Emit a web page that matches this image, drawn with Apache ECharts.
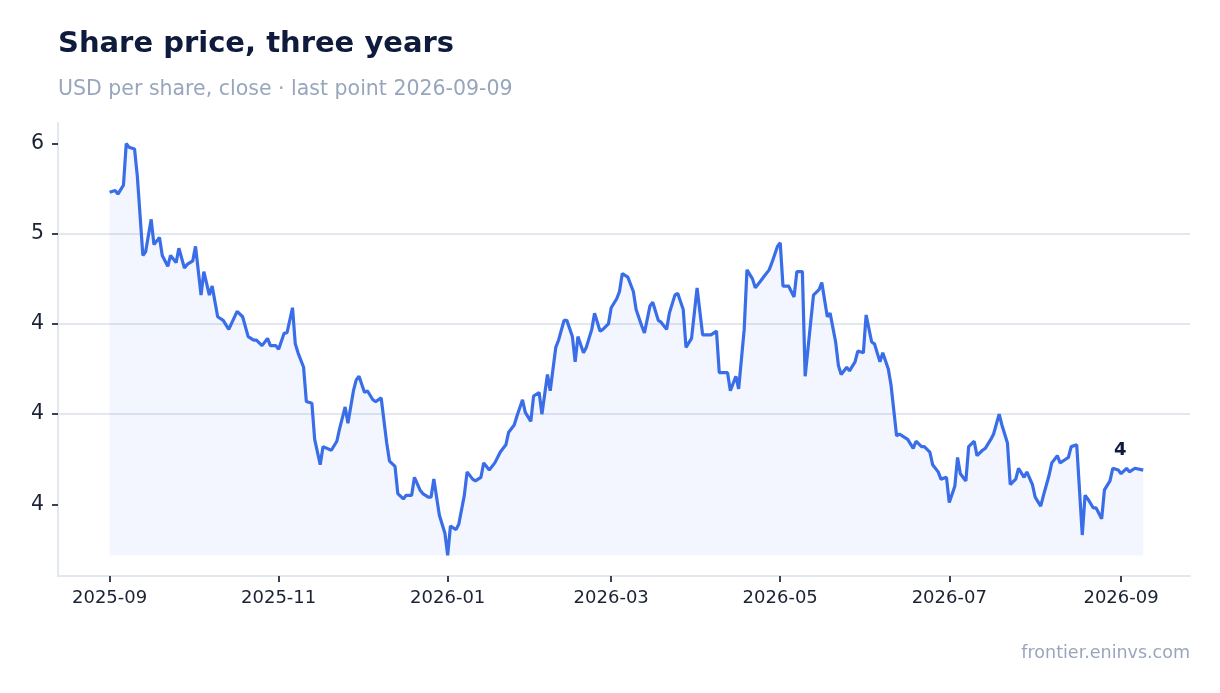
<!DOCTYPE html>
<html>
<head>
<meta charset="utf-8">
<script src="https://cdn.jsdelivr.net/npm/echarts@6/dist/echarts.min.js"></script>
<style>
  html, body { margin: 0; padding: 0; background: #fff; }
  #main { width: 1220px; height: 693px; }
</style>
</head>
<body>
<div id="main"></div>
<script>
// closing prices
var dates = [
  '2025-09-01','2025-09-03','2025-09-04','2025-09-06','2025-09-07','2025-09-08','2025-09-10','2025-09-11',
  '2025-09-13','2025-09-14','2025-09-16','2025-09-17','2025-09-19','2025-09-20','2025-09-22','2025-09-23',
  '2025-09-25','2025-09-26','2025-09-28','2025-09-29','2025-10-01','2025-10-02','2025-10-04','2025-10-05',
  '2025-10-07','2025-10-08','2025-10-10','2025-10-12','2025-10-14','2025-10-17','2025-10-19','2025-10-21',
  '2025-10-23','2025-10-24','2025-10-26','2025-10-28','2025-10-29','2025-10-31','2025-11-01','2025-11-03',
  '2025-11-04','2025-11-06','2025-11-07','2025-11-08','2025-11-10','2025-11-11','2025-11-13','2025-11-14',
  '2025-11-16','2025-11-17','2025-11-20','2025-11-22','2025-11-23','2025-11-25','2025-11-26','2025-11-28',
  '2025-11-29','2025-11-30','2025-12-02','2025-12-03','2025-12-05','2025-12-06','2025-12-08','2025-12-10',
  '2025-12-11','2025-12-13','2025-12-14','2025-12-16','2025-12-17','2025-12-19','2025-12-20','2025-12-22',
  '2025-12-23','2025-12-25','2025-12-26','2025-12-27','2025-12-29','2025-12-31','2026-01-01','2026-01-02',
  '2026-01-04','2026-01-05','2026-01-07','2026-01-08','2026-01-10','2026-01-11','2026-01-13','2026-01-14',
  '2026-01-16','2026-01-18','2026-01-20','2026-01-22','2026-01-23','2026-01-25','2026-01-26','2026-01-28',
  '2026-01-29','2026-01-31','2026-02-01','2026-02-03','2026-02-04','2026-02-06','2026-02-07','2026-02-09',
  '2026-02-10','2026-02-12','2026-02-13','2026-02-15','2026-02-16','2026-02-17','2026-02-19','2026-02-20',
  '2026-02-22','2026-02-23','2026-02-25','2026-02-26','2026-02-28','2026-03-01','2026-03-03','2026-03-04',
  '2026-03-05','2026-03-07','2026-03-09','2026-03-10','2026-03-12','2026-03-13','2026-03-15','2026-03-16',
  '2026-03-18','2026-03-19','2026-03-21','2026-03-22','2026-03-24','2026-03-25','2026-03-27','2026-03-28',
  '2026-03-30','2026-03-31','2026-04-01','2026-04-03','2026-04-04','2026-04-06','2026-04-08','2026-04-09',
  '2026-04-10','2026-04-12','2026-04-13','2026-04-15','2026-04-16','2026-04-18','2026-04-19','2026-04-21',
  '2026-04-22','2026-04-24','2026-04-25','2026-04-27','2026-04-28','2026-04-30','2026-05-01','2026-05-02',
  '2026-05-04','2026-05-06','2026-05-07','2026-05-09','2026-05-10','2026-05-12','2026-05-13','2026-05-15',
  '2026-05-16','2026-05-18','2026-05-19','2026-05-21','2026-05-22','2026-05-23','2026-05-25','2026-05-26',
  '2026-05-28','2026-05-29','2026-05-31','2026-06-01','2026-06-03','2026-06-04','2026-06-06','2026-06-07',
  '2026-06-09','2026-06-10','2026-06-12','2026-06-13','2026-06-15','2026-06-16','2026-06-18','2026-06-19',
  '2026-06-21','2026-06-22','2026-06-24','2026-06-25','2026-06-27','2026-06-28','2026-06-30','2026-07-01',
  '2026-07-03','2026-07-04','2026-07-05','2026-07-07','2026-07-08','2026-07-10','2026-07-11','2026-07-13',
  '2026-07-14','2026-07-16','2026-07-17','2026-07-19','2026-07-20','2026-07-22','2026-07-23','2026-07-25',
  '2026-07-26','2026-07-28','2026-07-29','2026-07-31','2026-08-01','2026-08-03','2026-08-04','2026-08-06',
  '2026-08-07','2026-08-09','2026-08-10','2026-08-12','2026-08-13','2026-08-14','2026-08-16','2026-08-18',
  '2026-08-19','2026-08-20','2026-08-22','2026-08-23','2026-08-25','2026-08-26','2026-08-28','2026-08-29',
  '2026-08-31','2026-09-01','2026-09-03','2026-09-04','2026-09-06','2026-09-09'
];
var prices = [
  5.73, 5.74, 5.72, 5.77, 6.00, 5.98, 5.97, 5.82,
  5.38, 5.40, 5.58, 5.44, 5.48, 5.38, 5.32, 5.38,
  5.34, 5.42, 5.31, 5.33, 5.35, 5.43, 5.16, 5.29,
  5.16, 5.21, 5.04, 5.02, 4.97, 5.07, 5.04, 4.93,
  4.91, 4.91, 4.88, 4.92, 4.88, 4.88, 4.86, 4.95,
  4.95, 5.09, 4.89, 4.84, 4.76, 4.57, 4.56, 4.36,
  4.22, 4.32, 4.30, 4.35, 4.42, 4.54, 4.45, 4.63,
  4.69, 4.71, 4.62, 4.63, 4.58, 4.57, 4.59, 4.34,
  4.24, 4.21, 4.06, 4.03, 4.05, 4.05, 4.15, 4.08,
  4.06, 4.04, 4.04, 4.14, 3.94, 3.84, 3.717, 3.88,
  3.86, 3.89, 4.05, 4.18, 4.14, 4.13, 4.15, 4.23,
  4.19, 4.23, 4.29, 4.33, 4.40, 4.44, 4.49, 4.58,
  4.51, 4.46, 4.60, 4.62, 4.50, 4.72, 4.63, 4.87,
  4.91, 5.02, 5.02, 4.93, 4.79, 4.93, 4.84, 4.87,
  4.97, 5.06, 4.96, 4.97, 5.00, 5.09, 5.14, 5.18,
  5.28, 5.26, 5.18, 5.08, 4.99, 4.95, 5.10, 5.12,
  5.02, 5.01, 4.97, 5.06, 5.16, 5.17, 5.08, 4.87,
  4.92, 5.06, 5.20, 4.94, 4.94, 4.94, 4.96, 4.73,
  4.73, 4.73, 4.63, 4.71, 4.64, 4.97, 5.30, 5.25,
  5.20, 5.24, 5.26, 5.30, 5.34, 5.43, 5.45, 5.21,
  5.21, 5.15, 5.29, 5.29, 4.71, 5.01, 5.16, 5.19,
  5.23, 5.04, 5.06, 4.90, 4.77, 4.72, 4.76, 4.74,
  4.79, 4.85, 4.84, 5.05, 4.90, 4.89, 4.79, 4.84,
  4.75, 4.66, 4.38, 4.39, 4.37, 4.36, 4.31, 4.35,
  4.32, 4.32, 4.29, 4.22, 4.18, 4.14, 4.15, 4.01,
  4.10, 4.26, 4.17, 4.13, 4.32, 4.35, 4.27, 4.30,
  4.31, 4.36, 4.39, 4.50, 4.44, 4.34, 4.11, 4.14,
  4.20, 4.15, 4.18, 4.11, 4.04, 3.99, 4.05, 4.16,
  4.23, 4.27, 4.23, 4.25, 4.26, 4.32, 4.33, 3.83,
  4.05, 4.03, 3.98, 3.98, 3.92, 4.08, 4.13, 4.20,
  4.19, 4.17, 4.20, 4.18, 4.20, 4.19
];

// axis ticks as printed on the chart
var yTickValues = [4, 4.5, 5, 5.5, 6];
var yTickLabels = ['4', '4', '4', '5', '6'];
var xTickDates = ['2025-09-01', '2025-11-01', '2026-01-01', '2026-03-01', '2026-05-01', '2026-07-01', '2026-09-01'];
var xTickLabels = ['2025-09', '2025-11', '2026-01', '2026-03', '2026-05', '2026-07', '2026-09'];

var FONT = 'DejaVu Sans';
var myChart = echarts.init(document.getElementById('main'));

var pMin = Math.min.apply(null, prices),
    pMax = Math.max.apply(null, prices),
    pad = (pMax - pMin) * 0.05;

function ts(s) {
  var p = s.split('-');
  return new Date(+p[0], +p[1] - 1, +p[2]).getTime();
}
var xTicks = xTickDates.map(ts);

var seriesData = dates.map(function(d, i) {
  return [ts(d), prices[i]];
});
var last = seriesData[seriesData.length - 1];

var option = {
  backgroundColor: '#fff',
  animation: false,
  title: {
    text: 'Share price, three years',
    subtext: 'USD per share, close · last point 2026-09-09',
    left: 53,
    top: 25,
    itemGap: 20,
    textStyle: { fontFamily: FONT, fontSize: 29, fontWeight: 'bold', color: '#0f1b3d' },
    subtextStyle: { fontFamily: FONT, fontSize: 20.5, color: '#98a6bd' }
  },
  graphic: [{
    type: 'text',
    right: 30,
    top: 644,
    style: { text: 'frontier.eninvs.com', font: '17.5px "DejaVu Sans"', fill: '#98a6bd' }
  }],
  grid: { left: 58, right: 30, top: 123, bottom: 117 },
  xAxis: {
    type: 'value',
    min: ts('2025-08-13') + 9 * 3600e3,
    max: ts('2026-09-25') + 21 * 3600e3,
    axisLine: { lineStyle: { color: '#e3e8f0', width: 2 } },
    axisTick: { show: true, customValues: xTicks, length: 6, lineStyle: { color: '#3a4252', width: 2 } },
    axisLabel: {
      customValues: xTicks,
      formatter: function(v) { return xTickLabels[xTicks.indexOf(v)] || ''; },
      fontFamily: FONT, fontSize: 18, color: '#1a2233', margin: 13
    },
    splitLine: { show: false }
  },
  yAxis: {
    type: 'value',
    min: pMin - pad,
    max: pMax + pad,
    axisLine: { show: true, lineStyle: { color: '#e3e8f0', width: 2 } },
    axisTick: { show: true, customValues: yTickValues, length: 6, lineStyle: { color: '#3a4252', width: 2 } },
    axisLabel: {
      customValues: yTickValues,
      formatter: function(v) { return yTickLabels[yTickValues.indexOf(v)] || ''; },
      fontFamily: FONT, fontSize: 20.5, color: '#1a2233', margin: 14
    },
    splitLine: { show: true, showMinLine: false, showMaxLine: false, lineStyle: { color: '#e3e8f0', width: 2 } }
  },
  series: [{
    type: 'line',
    data: seriesData,
    showSymbol: false,
    lineStyle: { color: '#3a6ee8', width: 3.2 },
    itemStyle: { color: '#3a6ee8' },
    areaStyle: { color: 'rgba(58,110,232,0.09)', origin: pMin },
    markPoint: {
      symbol: 'circle',
      symbolSize: 0,
      data: [{ coord: last, value: Math.round(last[1]) }],
      label: {
        show: true,
        position: 'top',
        distance: 11,
        offset: [-23, 0],
        fontFamily: FONT,
        fontWeight: 'bold',
        fontSize: 18,
        color: '#0f1b3d'
      }
    },
    z: 3
  }]
};

myChart.setOption(option);
</script>
</body>
</html>
